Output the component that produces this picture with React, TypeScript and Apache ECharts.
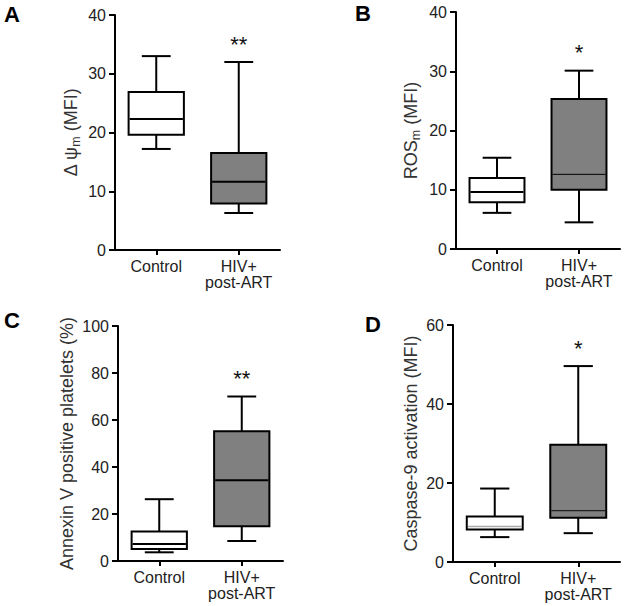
import React, { useEffect, useRef } from "react";
import * as echarts from "echarts";

// ---- Data ----
const categories = ["Control", "HIV+\npost-ART"];

// [min, Q1, median, Q3, max] per category
const panelA = [
  [17.2, 19.6, 22.3, 26.9, 33.0],
  [6.3, 7.9, 11.6, 16.5, 32.0],
];
const panelB = [
  [6.1, 7.9, 9.6, 12.0, 15.4],
  [4.5, 10.0, 12.6, 25.3, 30.1],
];
const panelC = [
  [3.7, 5.1, 7.2, 12.6, 26.3],
  [8.5, 14.8, 34.4, 55.2, 70.0],
];
const panelD = [
  [6.3, 8.2, 9.0, 11.5, 18.6],
  [7.3, 11.2, 13.0, 29.7, 49.6],
];

const sigA = ["", "**"];
const sigB = ["", "*"];
const sigC = ["", "**"];
const sigD = ["", "*"];

const yMaxA = 40;
const yMaxB = 40;
const yMaxC = 100;
const yMaxD = 60;
const yStepA = 10;
const yStepB = 10;
const yStepC = 20;
const yStepD = 20;

const titleA = "Δ ψ{s|m} (MFI)";
const titleB = "ROS{s|m} (MFI)";
const titleC = "Annexin V positive platelets (%)";
const titleD = "Caspase-9 activation (MFI)";

const FONT = "'Liberation Sans', Arial, Helvetica, sans-serif";
const BOX_FILLS = ["#ffffff", "#808080"];

type MedStyle = { color: string; width: number };

function makeRender(sig: string[], medians: MedStyle[]) {
  return (params: any, api: any) => {
    const i = api.value(0);
    const pMin = api.coord([i, api.value(1)]);
    const yQ1 = api.coord([i, api.value(2)])[1];
    const yMed = api.coord([i, api.value(3)])[1];
    const yQ3 = api.coord([i, api.value(4)])[1];
    const yMax = api.coord([i, api.value(5)])[1];
    const x = pMin[0];
    const yMin = pMin[1];
    const band = api.size([1, 0])[0];
    const bw = band * 0.67;
    const cw = band * 0.35;
    const ls = { stroke: "#000", lineWidth: 2 };
    const children: any[] = [
      { type: "line", shape: { x1: x, y1: yMax, x2: x, y2: yQ3 }, style: ls },
      { type: "line", shape: { x1: x, y1: yQ1, x2: x, y2: yMin }, style: ls },
      { type: "line", shape: { x1: x - cw / 2, y1: yMax, x2: x + cw / 2, y2: yMax }, style: ls },
      { type: "line", shape: { x1: x - cw / 2, y1: yMin, x2: x + cw / 2, y2: yMin }, style: ls },
      {
        type: "rect",
        shape: { x: x - bw / 2, y: yQ3, width: bw, height: yQ1 - yQ3 },
        style: { fill: BOX_FILLS[i], stroke: "#000", lineWidth: 2 },
      },
      {
        type: "line",
        shape: { x1: x - bw / 2 + 1, y1: yMed, x2: x + bw / 2 - 1, y2: yMed },
        style: { stroke: medians[i].color, lineWidth: medians[i].width },
      },
    ];
    if (sig[i]) {
      children.push({
        type: "text",
        x: x,
        y: yMax - 7,
        style: {
          text: sig[i],
          align: "center",
          verticalAlign: "bottom",
          fontSize: 22,
          fontFamily: FONT,
          fill: "#111",
        },
      });
    }
    return { type: "group", children };
  };
}

const grids = [
  { left: 115, top: 15, width: 165, height: 235 },
  { left: 456, top: 12, width: 164, height: 237 },
  { left: 118, top: 326, width: 165, height: 235 },
  { left: 453, top: 325, width: 167, height: 237 },
];

export default function App() {
  const ref = useRef<HTMLDivElement>(null);
  useEffect(() => {
    if (!ref.current) return;
    const chart = echarts.init(ref.current, undefined, { renderer: "svg" });
    const panels = [panelA, panelB, panelC, panelD];
    const sigs = [sigA, sigB, sigC, sigD];
    const maxes = [yMaxA, yMaxB, yMaxC, yMaxD];
    const steps = [yStepA, yStepB, yStepC, yStepD];
    const titles = [titleA, titleB, titleC, titleD];
    const nameGaps = [33, 34, 38, 31];
    const medianStyles: MedStyle[][] = [
      [{ color: "#000", width: 2 }, { color: "#000", width: 2 }],
      [{ color: "#000", width: 2 }, { color: "#000", width: 1 }],
      [{ color: "#000", width: 2 }, { color: "#000", width: 2 }],
      [{ color: "#aaaaaa", width: 1.5 }, { color: "#222", width: 1.2 }],
    ];
    const axisLine = { show: true, lineStyle: { color: "#000", width: 2 } };
    const option: any = {
      animation: false,
      backgroundColor: "#ffffff",
      grid: grids.map((g) => ({ ...g, containLabel: false })),
      xAxis: grids.map((_, k) => ({
        type: "category",
        gridIndex: k,
        data: categories,
        axisLine,
        axisTick: { show: true, alignWithLabel: true, length: 5, lineStyle: { color: "#000", width: 2 } },
        axisLabel: {
          interval: 0,
          margin: 8,
          fontSize: 16,
          lineHeight: 16,
          color: "#222",
          fontFamily: FONT,
        },
        splitLine: { show: false },
      })),
      yAxis: grids.map((_, k) => ({
        type: "value",
        gridIndex: k,
        min: 0,
        max: maxes[k],
        interval: steps[k],
        axisLine,
        axisTick: { show: true, length: 6, lineStyle: { color: "#000", width: 2 } },
        axisLabel: { margin: 9, fontSize: 16, color: "#222", fontFamily: FONT },
        splitLine: { show: false },
        name: titles[k],
        nameLocation: "middle",
        nameGap: nameGaps[k],
        nameTextStyle: {
          fontSize: 18,
          color: "#333",
          fontFamily: FONT,
          lineHeight: 22,
          rich: {
            s: { fontSize: 12.5, lineHeight: 12, verticalAlign: "bottom", color: "#333", fontFamily: FONT },
          },
        },
      })),
      series: panels.map((p, k) => ({
        type: "custom",
        xAxisIndex: k,
        yAxisIndex: k,
        clip: false,
        encode: { x: 0, y: [1, 2, 3, 4, 5] },
        data: p.map((row, i) => [i, ...row]),
        renderItem: makeRender(sigs[k], medianStyles[k]),
      })),
      graphic: [
        { type: "text", x: 12, y: 14, style: { text: "A", align: "center", verticalAlign: "middle", fontSize: 22, fontWeight: "bold", fontFamily: FONT, fill: "#000" } },
        { type: "text", x: 363, y: 13, style: { text: "B", align: "center", verticalAlign: "middle", fontSize: 22, fontWeight: "bold", fontFamily: FONT, fill: "#000" } },
        { type: "text", x: 12, y: 320, style: { text: "C", align: "center", verticalAlign: "middle", fontSize: 22, fontWeight: "bold", fontFamily: FONT, fill: "#000" } },
        { type: "text", x: 373, y: 324, style: { text: "D", align: "center", verticalAlign: "middle", fontSize: 22, fontWeight: "bold", fontFamily: FONT, fill: "#000" } },
      ],
    };
    chart.setOption(option);
    return () => chart.dispose();
  }, []);
  return (
    <div
      ref={ref}
      style={{ position: "absolute", left: 0, top: 0, width: 625, height: 606, background: "#fff" }}
    />
  );
}
